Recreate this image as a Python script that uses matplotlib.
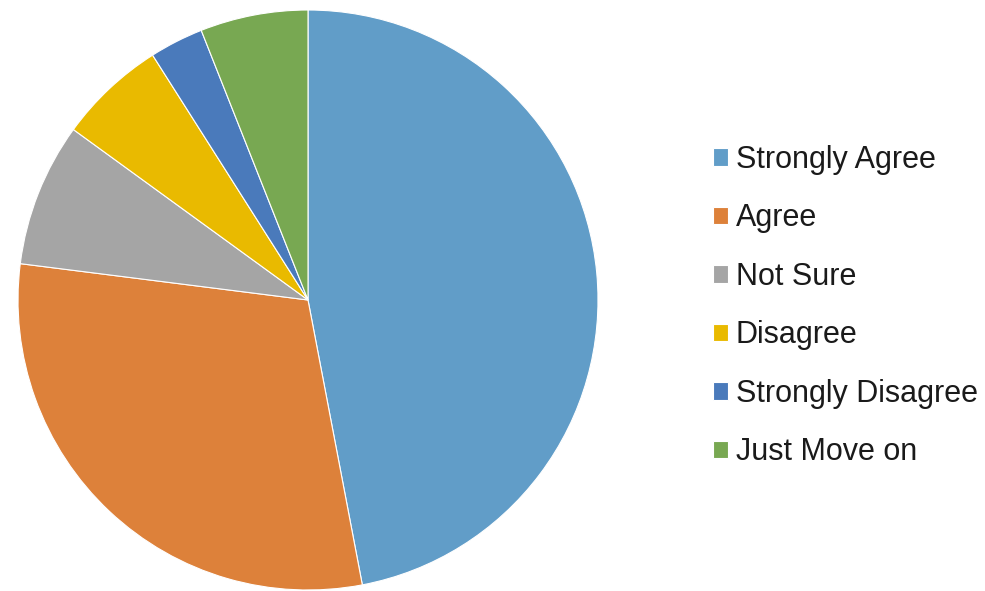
import matplotlib
matplotlib.use('Agg')
import matplotlib.pyplot as plt

# survey responses (% of respondents)
labels = ['Strongly Agree', 'Agree', 'Not Sure', 'Disagree',
          'Strongly Disagree', 'Just Move on']
values = [47, 30, 8, 6, 3, 6]
colors = ['#619DC8', '#DD813A', '#A5A5A5', '#E9BA00', '#4A7ABB', '#78A852']

plt.rcParams['font.family'] = ['Liberation Sans', 'DejaVu Sans']

W, H = 985, 591
fig = plt.figure(figsize=(W / 100, H / 100), dpi=100)

# pie axes placed in pixel terms: centre (308, 300), radius 290
cx, cy, r = 308, 300, 290
ax = fig.add_axes([(cx - r) / W, (H - cy - r) / H, 2 * r / W, 2 * r / H])
wedges, _ = ax.pie(values, colors=colors, startangle=90, counterclock=False,
                   radius=1.0,
                   wedgeprops=dict(edgecolor='white', linewidth=0.8))
ax.set_xlim(-1.0, 1.0)
ax.set_ylim(-1.0, 1.0)
ax.set_aspect('equal')
ax.axis('off')

leg = fig.legend(wedges, labels, loc='upper left',
                 bbox_to_anchor=(713 / W, 1 - 145 / H),
                 frameon=False, fontsize=22, handlelength=0.5,
                 handleheight=0.5, handletextpad=0.25, labelspacing=0.93,
                 borderpad=0, borderaxespad=0)
for t in leg.get_texts():
    t.set_color('#1a1a1a')

fig.savefig('out.png', dpi=100)
